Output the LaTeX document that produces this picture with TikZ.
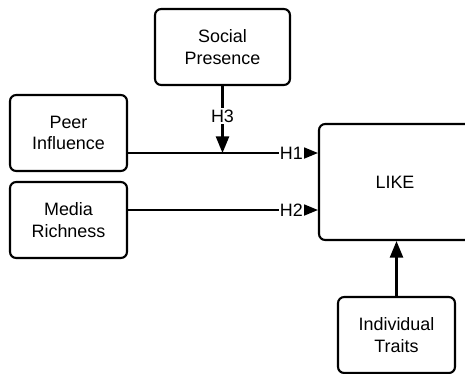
\documentclass[tikz,border=0pt]{standalone}
\usepackage{fontspec}
\setmainfont{Liberation Sans}
\usetikzlibrary{arrows.meta, calc, positioning}

\tikzset{
  factor/.style={draw, line width=1.2pt, rounded corners=3.5pt, align=center,
    minimum width=2.34cm, minimum height=1.52cm, font=\fontsize{10.2}{12.4}\selectfont},
  link/.style={line width=1.2pt, -{Triangle[length=9.5pt,width=7.5pt]}},
  hyp/.style={fill=white, inner sep=0.8pt, font=\fontsize{10.2}{12}\selectfont}
}

\begin{document}
\begin{tikzpicture}[x=0.02cm, y=-0.02cm]
\useasboundingbox (0,0) rectangle (465,373);

% boxes
\node[factor, minimum width=2.7cm] (social) at (222.5,47) {Social\\Presence};
\node[factor] (peer) at (68.5,133) {Peer\\Influence};
\node[factor] (media) at (68.5,220) {Media\\Richness};
\node[factor, minimum width=3.04cm, minimum height=2.32cm] (like) at (395,182) {LIKE};
\node[factor] (traits) at (396.5,335) {Individual\\Traits};

% arrow ends
\coordinate (h1end) at ($(like.west)+(0,-29)$);
\coordinate (h2end) at ($(like.west)+(0,28)$);
\coordinate (join) at (social.south |- h1end);

% hypotheses
\draw[link] (peer.east |- h1end) -- node[hyp, pos=0.86] {H1} (h1end);
\draw[link] (media.east |- h2end) -- node[hyp, pos=0.86] {H2} (h2end);
\draw[link] (social.south) -- node[hyp, pos=0.45] {H3} (join);
\draw[link] (traits.north) -- (traits.north |- like.south);
\end{tikzpicture}
\end{document}
